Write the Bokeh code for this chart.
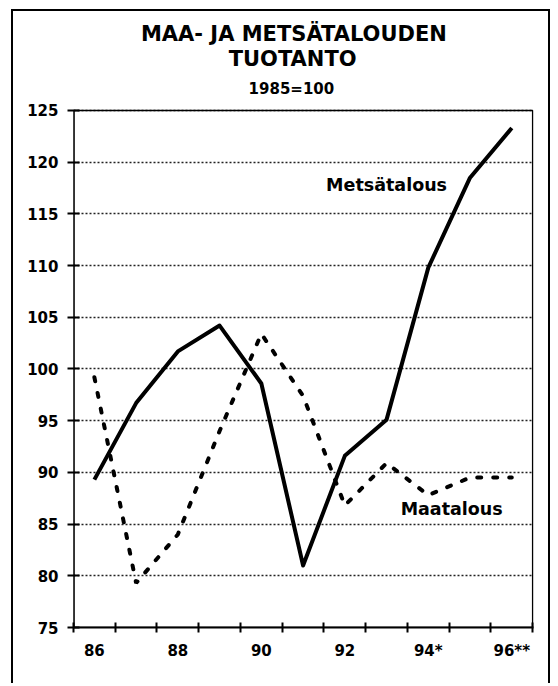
from bokeh.plotting import figure
from bokeh.models import FixedTicker, Range1d, LinearAxis
from bokeh.core.properties import value
from bokeh.embed import file_html
from bokeh.resources import INLINE

years = [86, 87, 88, 89, 90, 91, 92, 93, 94, 95, 96]
metsatalous = [89.3, 96.7, 101.7, 104.2, 98.6, 81.0, 91.6, 95.1, 109.8, 118.5, 123.3]
maatalous = [99.2, 79.3, 84.0, 94.0, 103.4, 97.4, 86.8, 90.9, 87.8, 89.5, 89.5]
x_tick_labels = {86: "86", 87: "", 88: "88", 89: "", 90: "90", 91: "", 92: "92",
                 93: "", 94: "94*", 95: "", 96: "96**"}
y_ticks = [75, 80, 85, 90, 95, 100, 105, 110, 115, 120, 125]
boundaries = [85.5, 86.5, 87.5, 88.5, 89.5, 90.5, 91.5, 92.5, 93.5, 94.5, 95.5, 96.5]
title_lines = ["MAA- JA METSÄTALOUDEN", "TUOTANTO", "1985=100"]
series_labels = ["Metsätalous", "Maatalous"]

FONT = "DejaVu Sans"
X0, X1 = 85.5, 96.5          # category band edges
Y0, Y1 = 75, 125             # value axis extent
Y_TOP = 133.7                # extra room above the box for the heading

# layout positions (in data units of the drawing area)
label_pos_x = [93.0, 94.56]
label_pos_y = [117.75, 86.5]
title_x = [90.78, 90.75, 90.72]
title_y = [132.35, 129.98, 127.03]
title_sizes = ["21px", "21px", "15px"]

p = figure(width=539, height=674, x_range=Range1d(X0, X1 + 0.02), y_range=Range1d(Y0, Y_TOP),
           output_backend="svg", toolbar_location=None, title=None,
           min_border_left=60, min_border_right=19, min_border_top=9, min_border_bottom=58)
p.margin = (9, 0, 0, 11)
p.styles = {"border-left": "2px solid black", "border-top": "2px solid black",
            "border-right": "2px solid black"}

p.background_fill_color = "white"
p.border_fill_color = "white"
p.outline_line_color = None

# grid
p.xgrid.grid_line_color = None
p.ygrid.ticker = FixedTicker(ticks=y_ticks)
p.ygrid.grid_line_color = "#222222"
p.ygrid.grid_line_dash = "2 2"
p.ygrid.grid_line_width = 1.5

# y axis (line drawn separately so it stops at the top of the box)
p.yaxis.ticker = FixedTicker(ticks=y_ticks)
p.yaxis.axis_line_color = None
p.yaxis.major_tick_in = 6
p.yaxis.major_tick_out = 6
p.yaxis.major_tick_line_width = 2
p.yaxis.minor_tick_line_color = None
p.yaxis.major_label_standoff = 9
p.yaxis.major_label_text_font = FONT
p.yaxis.major_label_text_font_style = "bold"
p.yaxis.major_label_text_font_size = "15px"
p.yaxis.major_label_text_color = "black"

# x axis: tick marks at category boundaries
xa = p.xaxis[0]
xa.ticker = FixedTicker(ticks=boundaries)
xa.major_label_overrides = {b: "" for b in boundaries}
xa.major_label_text_font_size = "0px"
xa.major_label_standoff = 0
xa.axis_line_width = 2
xa.major_tick_in = 5
xa.major_tick_out = 5
xa.major_tick_line_width = 2
xa.minor_tick_line_color = None

# x axis: labels at category centres
xl = LinearAxis(ticker=FixedTicker(ticks=years), major_label_overrides=x_tick_labels,
                axis_line_color=None, major_tick_line_color=None, minor_tick_line_color=None,
                major_label_standoff=3, major_label_text_font=FONT,
                major_label_text_font_style="bold", major_label_text_font_size="15px",
                major_label_text_color="black")
p.add_layout(xl, "below")

# plot box
p.quad(left=[X0], right=[X1], bottom=[Y0], top=[Y1], fill_color=None,
       line_color="black", line_width=1.5)
p.line(x=[X0, X0], y=[Y0, Y1], line_color="black", line_width=2.5)

# series
p.line(years, maatalous, line_color="black", line_width=4, line_dash="4 12", line_cap="round")
p.line(years, metsatalous, line_color="black", line_width=4, line_join="round")

p.text(x=label_pos_x, y=label_pos_y, text=series_labels, text_font=value(FONT),
       text_font_style="bold", text_font_size="17.5px", text_align="center",
       text_baseline="middle", text_color="black")

# heading
for tx, ty, tt, ts in zip(title_x, title_y, title_lines, title_sizes):
    p.text(x=[tx], y=[ty], text=[tt], text_font=value(FONT), text_font_style="bold",
           text_font_size=ts, text_align="center", text_baseline="middle", text_color="black")

open("out.html", "w").write(file_html(p, INLINE))
